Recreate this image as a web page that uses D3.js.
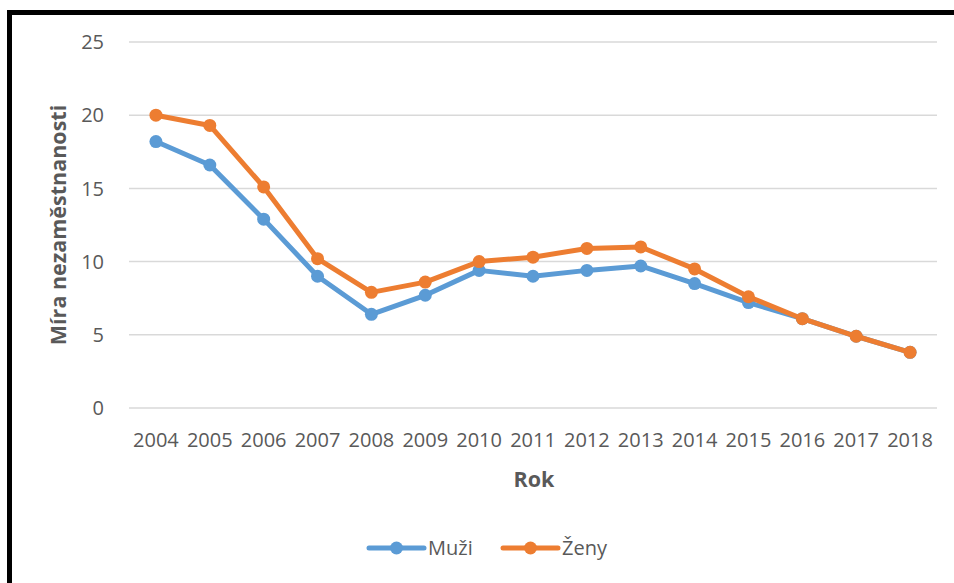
<!DOCTYPE html>
<html>
<head>
<meta charset="utf-8">
<script src="https://cdn.jsdelivr.net/npm/d3@7"></script>
<style>
  body { margin: 0; background: #fff; }
  text { font-family: "Open Sans", sans-serif; }
</style>
</head>
<body>
<div id="chart"></div>
<script>
const years = ["2004","2005","2006","2007","2008","2009","2010","2011","2012","2013","2014","2015","2016","2017","2018"];
const muzi = [18.2, 16.6, 12.9, 9.0, 6.4, 7.7, 9.4, 9.0, 9.4, 9.7, 8.5, 7.2, 6.1, 4.9, 3.8];
const zeny = [20.0, 19.3, 15.1, 10.2, 7.9, 8.6, 10.0, 10.3, 10.9, 11.0, 9.5, 7.6, 6.1, 4.9, 3.8];
const yTicks = [0, 5, 10, 15, 20, 25];

const width = 954, height = 583;
const series = [
    { name: "Muži", values: muzi, color: "#5B9BD5" },
    { name: "Ženy", values: zeny, color: "#ED7D31" }
];

const svg = d3.select("#chart").append("svg")
    .attr("width", width)
    .attr("height", height);

// outer frame (only top and left visible)
svg.append("rect")
    .attr("x", 9.5).attr("y", 12.5)
    .attr("width", 1000).attr("height", 700)
    .attr("fill", "#fff")
    .attr("stroke", "#000")
    .attr("stroke-width", 5);

const x = d3.scaleBand().domain(years).range([129, 937]);
const y = d3.scaleLinear().domain([0, 25]).range([408, 42]);

// gridlines
svg.append("g")
    .selectAll("line")
    .data(yTicks)
    .join("line")
    .attr("x1", 129).attr("x2", 937)
    .attr("y1", d => y(d)).attr("y2", d => y(d))
    .attr("stroke", "#D9D9D9")
    .attr("stroke-width", 1.5);

// y axis labels
svg.append("g")
    .selectAll("text")
    .data(yTicks)
    .join("text")
    .attr("x", 104)
    .attr("y", d => y(d))
    .attr("dy", "0.36em")
    .attr("text-anchor", "end")
    .attr("font-size", 20)
    .attr("fill", "#595959")
    .text(d => d);

// x axis labels
svg.append("g")
    .selectAll("text")
    .data(years)
    .join("text")
    .attr("x", d => x(d) + x.bandwidth() / 2)
    .attr("y", 447)
    .attr("text-anchor", "middle")
    .attr("font-size", 20)
    .attr("fill", "#595959")
    .text(d => d);

// axis titles
svg.append("text")
    .attr("transform", "translate(66,225) rotate(-90)")
    .attr("text-anchor", "middle")
    .attr("font-size", 21.5)
    .attr("font-weight", "bold")
    .attr("fill", "#595959")
    .text("Míra nezaměstnanosti");

svg.append("text")
    .attr("x", 534).attr("y", 487)
    .attr("text-anchor", "middle")
    .attr("font-size", 21.5)
    .attr("font-weight", "bold")
    .attr("fill", "#595959")
    .text("Rok");

const line = d3.line()
    .x((d, i) => x(years[i]) + x.bandwidth() / 2)
    .y(d => y(d));

series.forEach(s => {
    const g = svg.append("g");
    g.append("path")
        .attr("d", line(s.values))
        .attr("fill", "none")
        .attr("stroke", s.color)
        .attr("stroke-width", 5)
        .attr("stroke-linejoin", "round")
        .attr("stroke-linecap", "round");
    g.selectAll("circle")
        .data(s.values)
        .join("circle")
        .attr("cx", (d, i) => x(years[i]) + x.bandwidth() / 2)
        .attr("cy", d => y(d))
        .attr("r", 6.5)
        .attr("fill", s.color);
});

// legend
const legend = svg.append("g");
const legendX = [369, 503];
series.forEach((s, i) => {
    const lg = legend.append("g").attr("transform", `translate(${legendX[i]},548)`);
    lg.append("line")
        .attr("x1", 0).attr("x2", 55)
        .attr("stroke", s.color)
        .attr("stroke-width", 5)
        .attr("stroke-linecap", "round");
    lg.append("circle")
        .attr("cx", 27.5).attr("r", 6.5)
        .attr("fill", s.color);
    lg.append("text")
        .attr("x", 59).attr("dy", "0.36em")
        .attr("font-size", 20)
        .attr("fill", "#595959")
        .text(s.name);
});
</script>
</body>
</html>
